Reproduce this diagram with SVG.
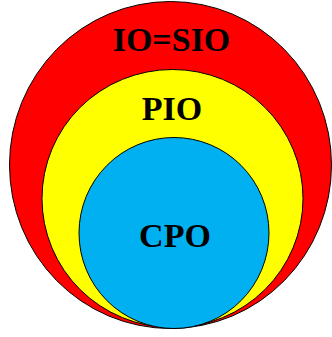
<svg xmlns="http://www.w3.org/2000/svg" width="332" height="337" viewBox="0 0 332 337">
<style>
.c{stroke:#000;stroke-width:1}
.t{font-family:"Liberation Serif","Times New Roman",serif;font-weight:bold;font-size:34px;fill:#000;text-anchor:middle}
</style>
<rect width="332" height="337" fill="#fff"/>
<g id="io">
<ellipse class="c" cx="170.5" cy="165" rx="161" ry="163.5" fill="#ff0000"/>
<text class="t" x="171.5" y="51">IO=SIO</text>
</g>
<g id="pio">
<ellipse class="c" cx="172.5" cy="198.5" rx="130.5" ry="129" fill="#ffff00"/>
<text class="t" x="172" y="120">PIO</text>
</g>
<g id="cpo">
<ellipse class="c" cx="174" cy="233" rx="95" ry="95.5" fill="#00b0f0"/>
<text class="t" x="175" y="247">CPO</text>
</g>
</svg>
